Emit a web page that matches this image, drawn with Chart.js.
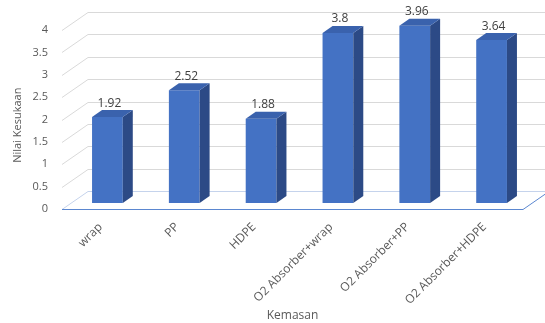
<!DOCTYPE html>
<html><head><meta charset="utf-8">
<script src="https://cdn.jsdelivr.net/npm/chart.js@4/dist/chart.umd.min.js"></script>
<style>html,body{margin:0;padding:0;background:#fff}#wrap{width:545px;height:323px;position:relative}</style>
</head><body><div id="wrap"><canvas id="c"></canvas></div>
<script>
const categories = ['wrap', 'PP', 'HDPE', 'O2 Absorber+wrap', 'O2 Absorber+PP', 'O2 Absorber+HDPE'];
const values = [1.92, 2.52, 1.88, 3.8, 3.96, 3.64];
const yTicks = [0, 0.5, 1, 1.5, 2, 2.5, 3, 3.5, 4];
const xTitle = 'Kemasan';
const yTitle = 'Nilai Kesukaan';

// 3D geometry (pixel offsets relative to front plane)
const BACK_DX = 26, BACK_DY = -18;
const BAR_DX = 7, BAR_DY = -6;
const DEPTH_DX = 10, DEPTH_DY = -7;

const FONT = "'Open Sans', 'Liberation Sans', sans-serif";

const threeD = {
  id: 'threeD',
  beforeDatasetsDraw(chart) {
    const ctx = chart.ctx;
    const a = chart.chartArea;
    const ys = chart.scales.y;
    ctx.save();
    ctx.lineWidth = 1;
    yTicks.forEach(v => {
      if (v === 0) return;
      const yf = Math.round(ys.getPixelForValue(v)) + 0.5;
      ctx.strokeStyle = '#D9D9D9';
      ctx.beginPath();
      ctx.moveTo(a.left, yf);
      ctx.lineTo(a.left + BACK_DX, yf + BACK_DY);
      ctx.lineTo(chart.width, yf + BACK_DY);
      ctx.stroke();
    });
    const y0 = Math.round(ys.getPixelForValue(0)) + 0.5;
    ctx.strokeStyle = '#C5D3EC';
    ctx.beginPath();
    ctx.moveTo(a.left, y0);
    ctx.lineTo(a.left + BACK_DX, y0 + BACK_DY);
    ctx.lineTo(a.right + BACK_DX, y0 + BACK_DY);
    ctx.stroke();
    ctx.strokeStyle = '#5B87D0';
    ctx.beginPath();
    ctx.moveTo(a.left, y0);
    ctx.lineTo(a.right, y0);
    ctx.lineTo(a.right + BACK_DX, y0 + BACK_DY);
    ctx.stroke();
    ctx.restore();
    ctx.save();
    ctx.translate(BAR_DX, BAR_DY);
  },
  afterDatasetsDraw(chart) {
    const ctx = chart.ctx;
    const meta = chart.getDatasetMeta(0);
    meta.data.forEach((bar, i) => {
      const p = bar.getProps(['x', 'y', 'base', 'width'], true);
      const l = p.x - p.width / 2, r = p.x + p.width / 2, t = p.y, b = p.base;
      ctx.fillStyle = '#2C4A86';
      ctx.beginPath();
      ctx.moveTo(r, t); ctx.lineTo(r + DEPTH_DX, t + DEPTH_DY);
      ctx.lineTo(r + DEPTH_DX, b + DEPTH_DY); ctx.lineTo(r, b);
      ctx.closePath(); ctx.fill();
      ctx.fillStyle = '#3A62AD';
      ctx.beginPath();
      ctx.moveTo(l, t); ctx.lineTo(l + DEPTH_DX, t + DEPTH_DY);
      ctx.lineTo(r + DEPTH_DX, t + DEPTH_DY); ctx.lineTo(r, t);
      ctx.closePath(); ctx.fill();
      ctx.fillStyle = '#404040';
      ctx.font = '12px ' + FONT;
      ctx.textAlign = 'center';
      ctx.textBaseline = 'bottom';
      ctx.fillText(String(values[i]), p.x + 2, t + DEPTH_DY - 1);
    });
    ctx.restore();
  }
};

new Chart(document.getElementById('c'), {
  type: 'bar',
  data: {
    labels: categories,
    datasets: [{
      data: values,
      backgroundColor: '#4472C4',
      borderWidth: 0,
      categoryPercentage: 1,
      barPercentage: 0.4,
      clip: false
    }]
  },
  options: {
    responsive: true,
    maintainAspectRatio: false,
    animation: false,
    events: [],
    layout: { padding: { top: 30, right: 22, left: 0, bottom: 0 } },
    plugins: { legend: { display: false }, tooltip: { enabled: false } },
    scales: {
      x: {
        grid: { display: false, drawTicks: false },
        border: { display: false },
        ticks: {
          color: '#595959', font: { family: FONT, size: 12 },
          minRotation: 45, maxRotation: 45, padding: 11, autoSkip: false
        },
        title: { display: true, text: xTitle, color: '#595959', font: { family: FONT, size: 12 }, padding: { top: 4, bottom: 0 } },
        afterFit(s) { s.height = 114; }
      },
      y: {
        min: 0, max: 4,
        afterBuildTicks(s) { s.ticks = yTicks.map(v => ({ value: v })); },
        grid: { display: false, drawTicks: false },
        border: { display: false },
        ticks: {
          color: '#595959', font: { family: FONT, size: 11 }, padding: 14,
          callback: v => String(v)
        },
        title: { display: true, text: yTitle + '    ', color: '#595959', font: { family: FONT, size: 11 }, padding: { top: 11, bottom: 0 } },
        afterFit(s) { s.width = 62; }
      }
    }
  },
  plugins: [threeD]
});
</script>
</body></html>
